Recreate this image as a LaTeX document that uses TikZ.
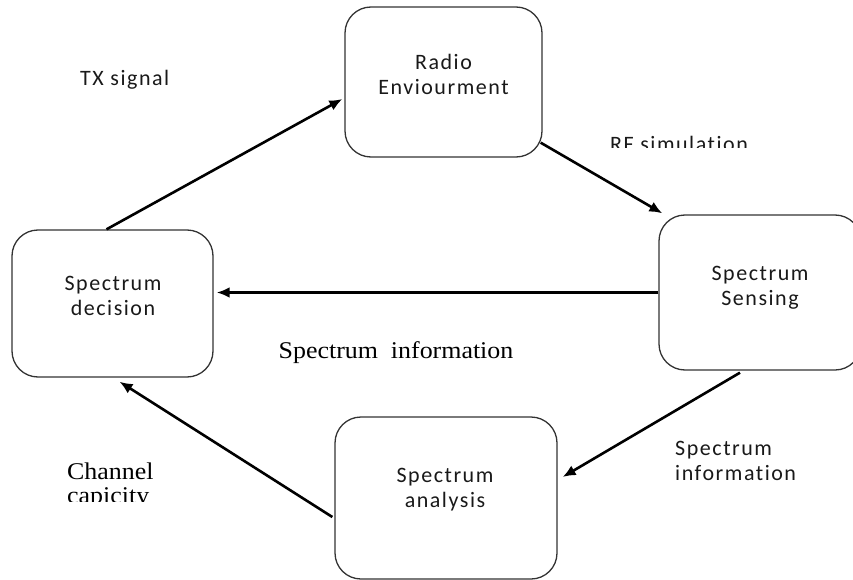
\documentclass[tikz,border=0pt]{standalone}
\usepackage{fontspec}
\usetikzlibrary{arrows.meta,calc}
\newfontfamily\labfont[LetterSpace=7,Ligatures=NoCommon]{Carlito}
\newfontfamily\serfont[FakeStretch=1.08]{Liberation Serif}
\tikzset{
  stage/.style={draw=black!80, line width=1.3pt, rounded corners=26pt, inner sep=0pt},
  lab/.style={font=\labfont\fontsize{22}{25}\selectfont, text=black!90, inner sep=0pt, align=center, anchor=base},
  serlab/.style={font=\serfont\fontsize{24}{24}\selectfont, text=black, inner sep=0pt, anchor=base},
  flow/.style={draw=black, line width=2.6pt, -{Latex[length=13pt,width=11pt]}}
}
\begin{document}
\begin{tikzpicture}[x=1pt,y=-1pt]
\useasboundingbox (0,0) rectangle (853,580);

% the four stages of the cycle
\node[stage, minimum width=197pt, minimum height=150pt] (radio) at (443.5,82) {};
\node[stage, minimum width=202pt, minimum height=155pt] (sens) at (760,292.5) {};
\node[stage, minimum width=201pt, minimum height=147pt] (dec) at (112.5,303.5) {};
\node[stage, minimum width=222pt, minimum height=162pt] (ana) at (446,498) {};

% stage names (anchored at the baseline of the second line)
\node[lab] (radiotxt) at (443.5,95) {Radio\\Enviourment};
\node[lab] (senstxt) at (760,305) {Spectrum\\Sensing};
\node[lab] (dectxt) at (113,315) {Spectrum\\decision};
\node[lab] (anatxt) at (445,507) {Spectrum\\analysis};

% connectors
\draw[flow] ($(dec.north)+(-6,0)$) -- ($(radio.west)+(-2,17)$);
\draw[flow] ($(radio.south east)+(-2,-15)$) -- ($(sens.north west)+(4,-1)$);
\draw[flow] (sens.west) -- ($(dec.east |- sens.west)+(3,0)$);
\draw[flow] ($(sens.south)+(-20,2)$) -- ($(ana.east)+(5,-21)$);
\draw[flow] ($(ana.west)+(-2,19)$) -- ($(dec.south)+(7,4)$);

% connector labels
\node[lab, anchor=base west] (txlab) at (80,86) {TX signal};
\begin{scope}
  \clip (560,100) rectangle (800,148);
  \node[lab, anchor=base west] (rflab) at (610,152) {RF simulation};
\end{scope}
\node[serlab] (infolab) at (396,358) {Spectrum\ \ information};
\node[lab, anchor=base west, align=left] (infolab2) at (675,480) {Spectrum\\information};
\node[serlab, anchor=base west] (chanlab) at (67,479) {Channel};
\begin{scope}
  \clip (40,485) rectangle (200,501);
  \node[serlab, anchor=base west] (caplab) at (67,503) {capicity};
\end{scope}
\end{tikzpicture}
\end{document}
